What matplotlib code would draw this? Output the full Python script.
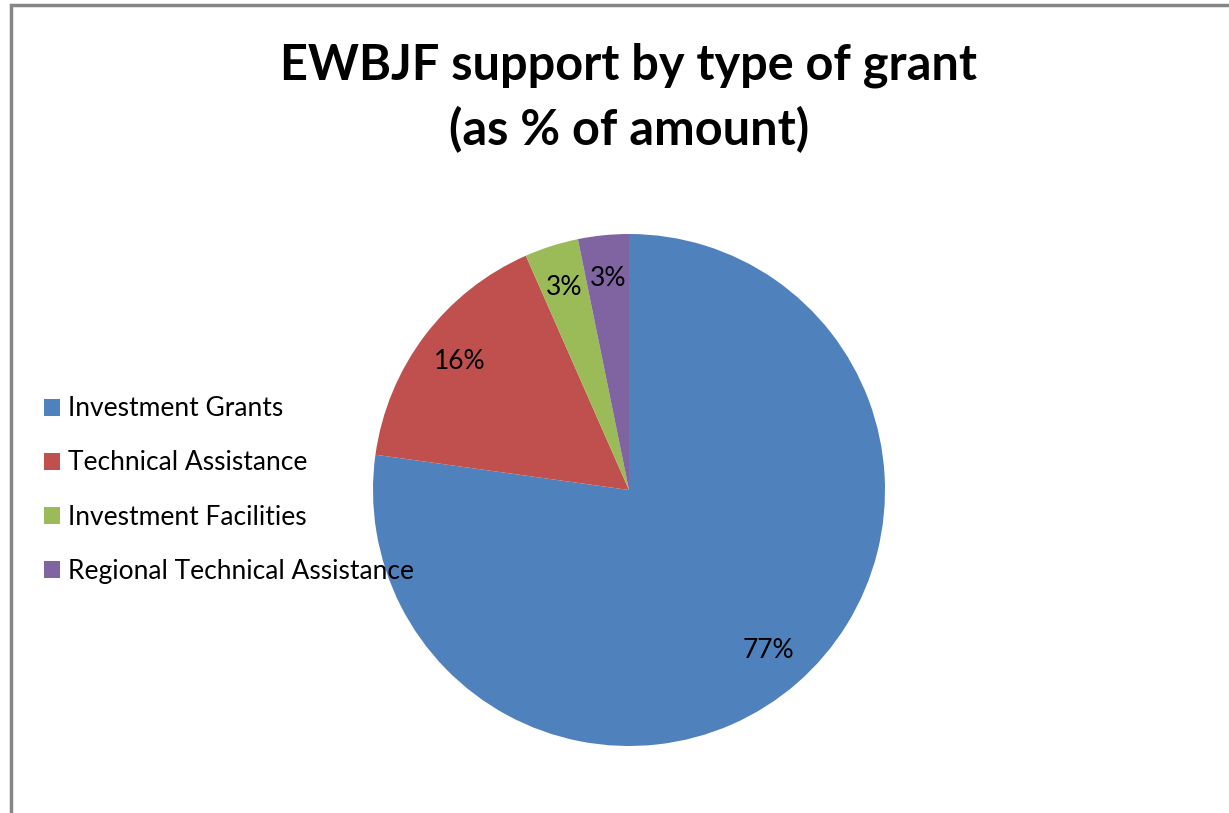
import matplotlib.pyplot as plt
from matplotlib.patches import Rectangle

# data
labels = ['Investment Grants', 'Technical Assistance', 'Investment Facilities',
          'Regional Technical Assistance']
shares = [77.2, 16.2, 3.4, 3.2]
colors = ['#4F81BD', '#C0504D', '#9BBB59', '#8064A2']
title = 'EWBJF support by type of grant\n(as % of amount)'

plt.rcParams['font.family'] = ['Lato', 'DejaVu Sans']

W, H = 1229, 813
fig = plt.figure(figsize=(W / 100, H / 100), dpi=100)
fig.patch.set_facecolor('white')

# grey chart frame (cropped on right and bottom)
fig.patches.append(Rectangle((10.5 / W, -0.05), 1.1, 1 - 5 / H + 0.05,
                             transform=fig.transFigure, fill=False,
                             edgecolor='#868686', linewidth=2.5))

# pie axes: centre (629, 490), radius 256 px
cx, cy, r = 629, 490, 256
ax = fig.add_axes([(cx - r) / W, (H - cy - r) / H, 2 * r / W, 2 * r / H])
wedges, texts, autotexts = ax.pie(shares, colors=colors, startangle=90,
                                  counterclock=False, autopct='%.0f%%',
                                  pctdistance=0.83,
                                  wedgeprops=dict(linewidth=0),
                                  textprops=dict(fontsize=19, color='black'))
ax.set_xlim(-1, 1)
ax.set_ylim(-1, 1)
ax.set_aspect('equal')

fig.text(cx / W, 1 - 98 / H, title, ha='center', va='center',
         fontsize=35, fontweight='bold', linespacing=1.45)

fig.legend(wedges, labels, loc='center left', bbox_to_anchor=(44 / W, 1 - 490 / H),
           frameon=False, fontsize=19, borderpad=0, borderaxespad=0,
           handlelength=0.6, handleheight=0.6, handletextpad=0.3,
           labelspacing=1.1)

fig.savefig('out.png', dpi=100)
